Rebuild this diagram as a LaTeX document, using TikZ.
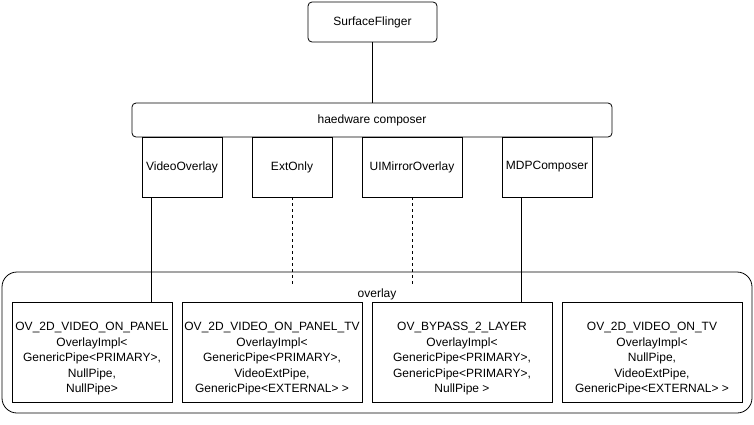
\documentclass[tikz,border=0pt]{standalone}
\usepackage{fontspec}
\setmainfont{Liberation Sans}
\newcommand{\lowerpad}{\rule{0pt}{22pt}}
\begin{document}
\begin{tikzpicture}[x=1pt,y=-1pt,
  every node/.style={font=\fontsize{12}{15.5}\selectfont, inner sep=0pt, line width=0.8pt},
  rbox/.style={draw, rounded corners=4pt, minimum width=#1, align=center},
  plainbox/.style={draw, minimum width=#1, align=center},
  ovbox/.style={draw, minimum width=180pt, minimum height=100pt, align=center},
  link/.style={line width=0.8pt},
  dlink/.style={line width=0.8pt, dash pattern=on 3pt off 3pt}]
\useasboundingbox[fill=white] (0,0) rectangle (754,424);
% container
\draw[line width=0.8pt, rounded corners=15pt] (2,272) rectangle (752,413);
\node (ovl) at (377,294) {overlay};
% top
\node[rbox=129pt, minimum height=40pt] (sf) at (372.5,22) {SurfaceFlinger};
\node[rbox=480pt, minimum height=34pt] (hwc) at (372,120) {haedware composer};
\node[plainbox=80pt, minimum height=60pt] (vo) at (182,167) {VideoOverlay};
\node[plainbox=80pt, minimum height=60pt] (ext) at (292,167) {ExtOnly};
\node[plainbox=100pt, minimum height=60pt] (uim) at (412,167) {UIMirrorOverlay};
\node[plainbox=90pt, minimum height=60pt] (mdp) at (547,167) {MDPComposer};
% overlay boxes
\node[ovbox, minimum width=160pt] (b1) at (92,352) {\lowerpad OV\_2D\_VIDEO\_ON\_PANEL\\OverlayImpl<\\GenericPipe<PRIMARY>,\\NullPipe,\\NullPipe>};
\node[ovbox] (b2) at (272,352) {\lowerpad OV\_2D\_VIDEO\_ON\_PANEL\_TV\\OverlayImpl<\\GenericPipe<PRIMARY>,\\VideoExtPipe,\\GenericPipe<EXTERNAL> >};
\node[ovbox] (b3) at (462,352) {\lowerpad OV\_BYPASS\_2\_LAYER\\OverlayImpl<\\GenericPipe<PRIMARY>,\\GenericPipe<PRIMARY>,\\NullPipe >};
\node[ovbox] (b4) at (652,352) {\lowerpad OV\_2D\_VIDEO\_ON\_TV\\OverlayImpl<\\NullPipe,\\VideoExtPipe,\\GenericPipe<EXTERNAL> >};
% connectors
\draw[link] (sf.south) -- (sf.south |- hwc.north);
\coordinate (p1) at ([xshift=10pt]vo.south west);
\draw[link] (p1) -- (p1 |- b1.north);
\coordinate (p4) at ([xshift=20pt]mdp.south west);
\draw[link] (p4) -- (p4 |- b3.north);
\coordinate (e2) at ([yshift=-88pt]ext.south);
\draw[dlink] (ext.south) -- (e2);
\coordinate (e3) at ([yshift=-88pt]uim.south);
\draw[dlink] (uim.south) -- (e3);
\end{tikzpicture}
\end{document}
